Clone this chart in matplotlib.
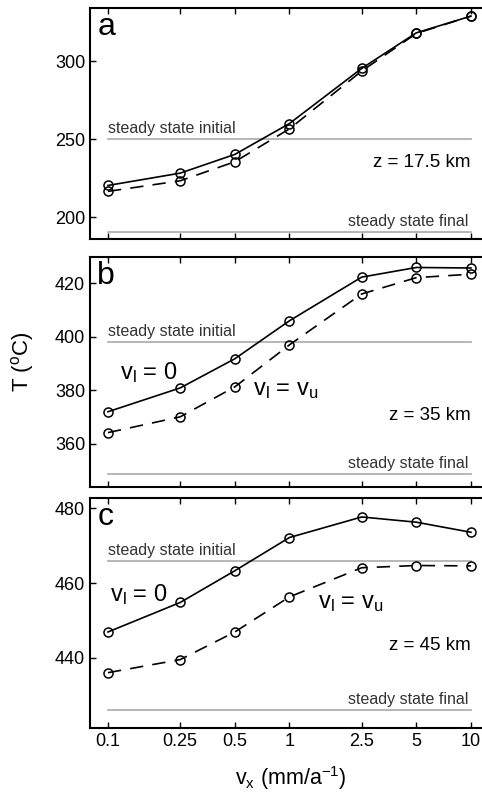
import matplotlib
matplotlib.use("Agg")
import matplotlib.pyplot as plt

plt.rcParams['font.family'] = ['Liberation Sans', 'DejaVu Sans']
plt.rcParams['mathtext.default'] = 'regular'

# Data
vx = [0.1, 0.25, 0.5, 1, 2.5, 5, 10]
xtick_labels = ["0.1", "0.25", "0.5", "1", "2.5", "5", "10"]

a_vl0 = [220.3, 228.2, 240.2, 260.0, 295.3, 318.1, 328.8]
a_vlvu = [216.5, 223.3, 235.5, 256.6, 293.6, 317.7, 328.8]
b_vl0 = [372.0, 380.9, 391.8, 406.0, 422.3, 425.9, 425.7]
b_vlvu = [364.2, 370.1, 381.3, 397.0, 416.0, 422.1, 423.4]
c_vl0 = [446.9, 454.8, 463.3, 472.2, 477.7, 476.3, 473.6]
c_vlvu = [436.0, 439.5, 446.9, 456.3, 464.1, 464.7, 464.6]

ss_initial = [250.0, 398.0, 465.9]
ss_final = [190.6, 348.7, 426.0]
panel_letters = ["a", "b", "c"]
depth_labels = ["z = 17.5 km", "z = 35 km", "z = 45 km"]
depth_y = [235.3, 370.5, 443.4]
ylims = [(186, 334), (344, 429.7), (421.1, 482.7)]
yticks = [[200, 250, 300], [360, 380, 400, 420], [440, 460, 480]]

fig = plt.figure(figsize=(4.82, 7.96), dpi=100)

# axes boxes in pixels (top, bottom); right spine falls just outside the image
W = 482.0
H = 796.0
boxes = [(8, 239), (257.3, 486.7), (498.3, 728.3)]
left_px, right_px = 90, 490

axes = []
for (top, bot) in boxes:
    ax = fig.add_axes([left_px / W, 1 - bot / H, (right_px - left_px) / W, (bot - top) / H])
    axes.append(ax)

series = [(a_vl0, a_vlvu), (b_vl0, b_vlvu), (c_vl0, c_vlvu)]

for i, ax in enumerate(axes):
    solid, dashed = series[i]
    ax.set_xscale('log')
    ax.set_xlim(0.0796, 12.73)
    ax.set_ylim(*ylims[i])

    # steady state reference lines
    ax.plot([vx[0], vx[-1]], [ss_initial[i]] * 2, color="#aaaaaa", lw=1.2, zorder=1)
    ax.plot([vx[0], vx[-1]], [ss_final[i]] * 2, color="#aaaaaa", lw=1.2, zorder=1)
    ax.annotate("steady state initial", (vx[0], ss_initial[i]), xytext=(0, 2),
                textcoords="offset points", ha="left", va="bottom", fontsize=11.5, color="#333333")
    ax.annotate("steady state final", (vx[-1], ss_final[i]), xytext=(-2, 2),
                textcoords="offset points", ha="right", va="bottom", fontsize=11.5, color="#333333")

    ax.plot(vx, solid, color="black", lw=1.2, marker="o", ms=6.5, mfc="none", mew=1.1, zorder=3)
    ax.plot(vx, dashed, color="black", lw=1.2, ls=(0, (8, 5.5)), marker="o", ms=6.5,
            mfc="none", mew=1.1, zorder=3)

    ax.text(10, depth_y[i], depth_labels[i], ha="right", va="center", fontsize=13.5)
    ax.text(0.018, 0.918, panel_letters[i], transform=ax.transAxes, ha="left", va="center",
            fontsize=23)

    ax.set_yticks(yticks[i])
    ax.set_xticks(vx)
    ax.minorticks_off()
    ax.tick_params(direction="in", top=True, right=True, length=4, width=1, labelsize=13)
    if i < 2:
        ax.set_xticklabels([])
    else:
        ax.set_xticklabels(xtick_labels)
    for s in ax.spines.values():
        s.set_linewidth(1.5)

# curve labels
axes[1].text(0.1164, 386.5, "v$_l$ = 0", fontsize=17, ha="left", va="center")
axes[1].text(0.63, 380.1, "v$_l$ = v$_u$", fontsize=17, ha="left", va="center")
axes[2].text(0.1025, 456.8, "v$_l$ = 0", fontsize=17, ha="left", va="center")
axes[2].text(1.435, 454.6, "v$_l$ = v$_u$", fontsize=17, ha="left", va="center")

fig.text(23 / W, 1 - 362 / H, "T ($^o$C)", rotation=90, ha="center", va="center", fontsize=16)
fig.text(291 / W, 1 - 778 / H, "v$_x$ (mm/a$^{-1}$)", ha="center", va="center", fontsize=15.5)

fig.savefig("out.png", dpi=100)
